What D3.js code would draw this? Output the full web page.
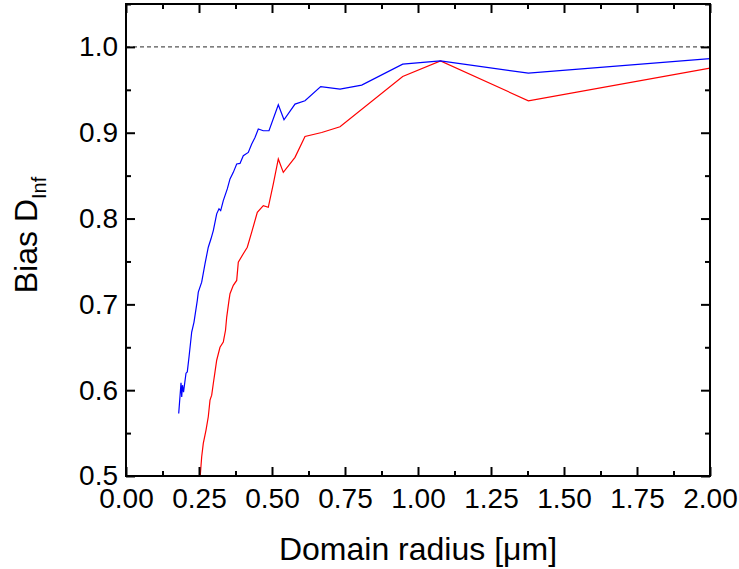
<!DOCTYPE html>
<meta charset="utf-8">
<script src="https://d3js.org/d3.v7.min.js"></script>
<style>
    body { margin: 0; background: #fff; }
    text { font-family: 'Liberation Sans', Arial, sans-serif; fill: #000; }
</style>
<div id="chart"></div>
<script>
    // blue curve (upper)
    const blueX = [0.1805, 0.1884, 0.1908, 0.1935, 0.197, 0.2055, 0.2099, 0.2158, 0.225, 0.2329,
        0.2442, 0.2476, 0.2592, 0.2705, 0.2818, 0.2911, 0.299, 0.3106, 0.3185, 0.3243,
        0.3332, 0.3469, 0.3562, 0.3675, 0.3791, 0.3904, 0.4017, 0.4188, 0.4305, 0.4418,
        0.4531, 0.4702, 0.4897, 0.5216, 0.5411, 0.5788, 0.613, 0.6668, 0.7329, 0.8072,
        0.9476, 1.077, 1.378, 2.0];
    const blueY = [0.5729, 0.6085, 0.5922, 0.6058, 0.5977, 0.6198, 0.6213, 0.6387, 0.6678, 0.6794,
        0.7047, 0.7143, 0.7259, 0.7473, 0.7666, 0.7764, 0.786, 0.8055, 0.8113, 0.8093,
        0.8209, 0.8345, 0.8462, 0.8538, 0.8636, 0.8643, 0.8733, 0.8771, 0.8869, 0.8945,
        0.9043, 0.9023, 0.9023, 0.9326, 0.9151, 0.9334, 0.9372, 0.9538, 0.9508, 0.9555,
        0.9799, 0.9837, 0.9694, 0.9864];

    // red curve (lower)
    const redX = [0.252, 0.2592, 0.2647, 0.274, 0.2818, 0.2877, 0.2935, 0.299, 0.3048, 0.3106,
        0.3219, 0.3332, 0.3408, 0.3449, 0.3527, 0.3562, 0.3675, 0.3791, 0.3846, 0.4017,
        0.4154, 0.4305, 0.4497, 0.4702, 0.4873, 0.5045, 0.5216, 0.5387, 0.5788, 0.613,
        0.6702, 0.7329, 0.9476, 1.077, 1.378, 2.0];
    const redY = [0.49, 0.5224, 0.538, 0.5535, 0.569, 0.5884, 0.5942, 0.6078, 0.6213, 0.6349,
        0.65, 0.6562, 0.6698, 0.6852, 0.7047, 0.7124, 0.7221, 0.7279, 0.7492, 0.759,
        0.7666, 0.7841, 0.8073, 0.8151, 0.8131, 0.8403, 0.8694, 0.8538, 0.8713, 0.8957,
        0.9003, 0.907, 0.9655, 0.9837, 0.9372, 0.9752];

    const xTicks = [0, 0.25, 0.5, 0.75, 1.0, 1.25, 1.5, 1.75, 2.0];
    const xMinor = [0.125, 0.375, 0.625, 0.875, 1.125, 1.375, 1.625, 1.875];
    const yTicks = [0.5, 0.6, 0.7, 0.8, 0.9, 1.0];
    const yMinor = [0.55, 0.65, 0.75, 0.85, 0.95, 1.05];
    const refLevel = 1.0;

    let W = 739, H = 569;
    let margin = {top: 4, right: 29, bottom: 93, left: 126};

    let svg = d3.select("#chart")
        .append("svg")
        .attr("width", W)
        .attr("height", H);

    let x = d3.scaleLinear()
        .domain([0, 2])
        .range([margin.left, W - margin.right]);

    let y = d3.scaleLinear()
        .domain([0.5, 1.05])
        .range([H - margin.bottom, margin.top]);

    svg.append("clipPath")
        .attr("id", "plotclip")
        .append("rect")
        .attr("x", x(0))
        .attr("y", y(1.05))
        .attr("width", x(2) - x(0))
        .attr("height", y(0.5) - y(1.05));

    // dashed reference line
    svg.append("line")
        .attr("x1", x(0)).attr("x2", x(2))
        .attr("y1", y(refLevel)).attr("y2", y(refLevel))
        .attr("stroke", "#555")
        .attr("stroke-width", 1.3)
        .attr("stroke-dasharray", "4,3");

    let line = d3.line()
        .x(d => x(d[0]))
        .y(d => y(d[1]));

    let plot = svg.append("g").attr("clip-path", "url(#plotclip)");

    plot.append("path")
        .datum(redX.map((v, i) => [v, redY[i]]))
        .attr("fill", "none")
        .attr("stroke", "#ff0000")
        .attr("stroke-width", 1.2)
        .attr("d", line);

    plot.append("path")
        .datum(blueX.map((v, i) => [v, blueY[i]]))
        .attr("fill", "none")
        .attr("stroke", "#0000ff")
        .attr("stroke-width", 1.2)
        .attr("d", line);

    // axes: major ticks inward with labels, minor ticks inward without
    function styleAxis(g) {
        g.select(".domain").remove();
        g.selectAll("line").attr("stroke", "#000").attr("stroke-width", 2);
        g.selectAll("text")
            .style("font-size", "28px")
            .style("font-family", "'Liberation Sans', Arial, sans-serif");
    }

    svg.append("g")
        .attr("transform", "translate(0," + y(0.5) + ")")
        .call(d3.axisBottom(x).tickValues(xTicks).tickSize(-9).tickPadding(12)
            .tickFormat(d3.format(".2f")))
        .call(styleAxis);
    svg.append("g")
        .attr("transform", "translate(0," + y(0.5) + ")")
        .call(d3.axisBottom(x).tickValues(xMinor).tickSize(-5).tickFormat(""))
        .call(styleAxis);

    svg.append("g")
        .attr("transform", "translate(0," + y(1.05) + ")")
        .call(d3.axisTop(x).tickValues(xTicks).tickSize(-9).tickFormat(""))
        .call(styleAxis);
    svg.append("g")
        .attr("transform", "translate(0," + y(1.05) + ")")
        .call(d3.axisTop(x).tickValues(xMinor).tickSize(-5).tickFormat(""))
        .call(styleAxis);

    svg.append("g")
        .attr("transform", "translate(" + x(0) + ",0)")
        .call(d3.axisLeft(y).tickValues(yTicks).tickSize(-9).tickPadding(8)
            .tickFormat(d3.format(".1f")))
        .call(styleAxis);
    svg.append("g")
        .attr("transform", "translate(" + x(0) + ",0)")
        .call(d3.axisLeft(y).tickValues(yMinor).tickSize(-5).tickFormat(""))
        .call(styleAxis);

    svg.append("g")
        .attr("transform", "translate(" + x(2) + ",0)")
        .call(d3.axisRight(y).tickValues(yTicks).tickSize(-9).tickFormat(""))
        .call(styleAxis);
    svg.append("g")
        .attr("transform", "translate(" + x(2) + ",0)")
        .call(d3.axisRight(y).tickValues(yMinor).tickSize(-5).tickFormat(""))
        .call(styleAxis);

    // frame
    svg.append("rect")
        .attr("x", x(0))
        .attr("y", y(1.05))
        .attr("width", x(2) - x(0))
        .attr("height", y(0.5) - y(1.05))
        .attr("fill", "none")
        .attr("stroke", "#000")
        .attr("stroke-width", 2);

    // axis titles
    svg.append("text")
        .attr("x", (x(0) + x(2)) / 2)
        .attr("y", 560)
        .attr("text-anchor", "middle")
        .style("font-size", "32px")
        .text("Domain radius [\u03bcm]");

    let yt = svg.append("text")
        .attr("transform", "translate(37," + 235 + ") rotate(-90)")
        .attr("text-anchor", "middle")
        .style("font-size", "32px");
    yt.append("tspan").text("Bias D");
    yt.append("tspan")
        .attr("dy", 9)
        .style("font-size", "20px")
        .text("Inf");
</script>
